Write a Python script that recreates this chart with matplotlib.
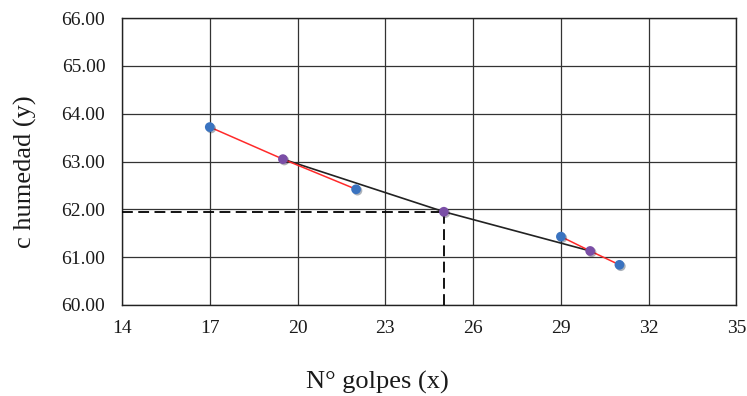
import matplotlib.pyplot as plt
import matplotlib.patheffects as pe

# Puntos de ensayo (N° golpes vs contenido de humedad)
golpes = [17, 19.5, 22, 25, 29, 30, 31]
humedad = [63.72, 63.05, 62.42, 61.95, 61.43, 61.13, 60.84]

# tramos rojos entre ensayos y recta de ajuste (negra)
tramo1_x = [17, 19.5, 22]
tramo1_y = [63.72, 63.05, 62.42]
tramo2_x = [29, 30, 31]
tramo2_y = [61.43, 61.13, 60.84]
ajuste_x = [19.5, 25, 30]
ajuste_y = [63.05, 61.95, 61.13]

puntos_azules_x = [17, 22, 29, 31]
puntos_azules_y = [63.72, 62.42, 61.43, 60.84]
puntos_morados_x = [19.5, 25, 30]
puntos_morados_y = [63.05, 61.95, 61.13]

x_lim = (14, 35)
y_lim = (60, 66)
x_ticks = [14, 17, 20, 23, 26, 29, 32, 35]
y_ticks = [60, 61, 62, 63, 64, 65, 66]

plt.rcParams['font.family'] = ['Liberation Serif', 'DejaVu Serif']

fig = plt.figure(figsize=(7.47, 3.96), dpi=100)
ax = fig.add_axes([0.1633, 0.2298, 0.8226, 0.7247])

ax.set_xlim(*x_lim)
ax.set_ylim(*y_lim)
ax.set_xticks(x_ticks)
ax.set_yticks(y_ticks)
ax.set_yticklabels([f"{v:.2f}" for v in y_ticks])
ax.grid(True, color='#333333', linewidth=0.9)
ax.set_axisbelow(True)
ax.tick_params(length=0, labelsize=14, labelcolor='#1a1a1a')
ax.tick_params(axis='y', pad=12)
ax.tick_params(axis='x', pad=11)
for s in ax.spines.values():
    s.set_color('#222222')
    s.set_linewidth(1.0)

# lineas discontinuas para leer la humedad a 25 golpes
ax.plot([x_lim[0], 25], [61.95, 61.95], color='black', linestyle=(0, (6, 3)), linewidth=1.3, zorder=3)
ax.plot([25, 25], [y_lim[0], 61.95], color='black', linestyle=(0, (6, 3)), linewidth=1.3, zorder=3)

ax.plot(ajuste_x, ajuste_y, color='#222222', linewidth=1.2, zorder=4)
ax.plot(tramo1_x, tramo1_y, color='#ff2a2a', linewidth=1.1, zorder=4)
ax.plot(tramo2_x, tramo2_y, color='#ff2a2a', linewidth=1.1, zorder=4)

sombra = [pe.SimplePatchShadow(offset=(1, -1), alpha=0.35), pe.Normal()]
ax.plot(puntos_azules_x, puntos_azules_y, 'o', color='#3a73c0', markersize=7,
        markeredgewidth=0, zorder=5, path_effects=sombra)
ax.plot(puntos_morados_x, puntos_morados_y, 'o', color='#7a4ea6', markersize=7,
        markeredgewidth=0, zorder=6, path_effects=sombra)

# titulos de ejes
fig.text(0.505, 0.033, 'N° golpes (x)', fontsize=19, ha='center', va='center', color='#1a1a1a')
fig.text(0.0335, 0.566, 'c humedad (y)', fontsize=19, rotation=90,
         ha='center', va='center', color='#1a1a1a')

fig.savefig('out.png', dpi=100)
